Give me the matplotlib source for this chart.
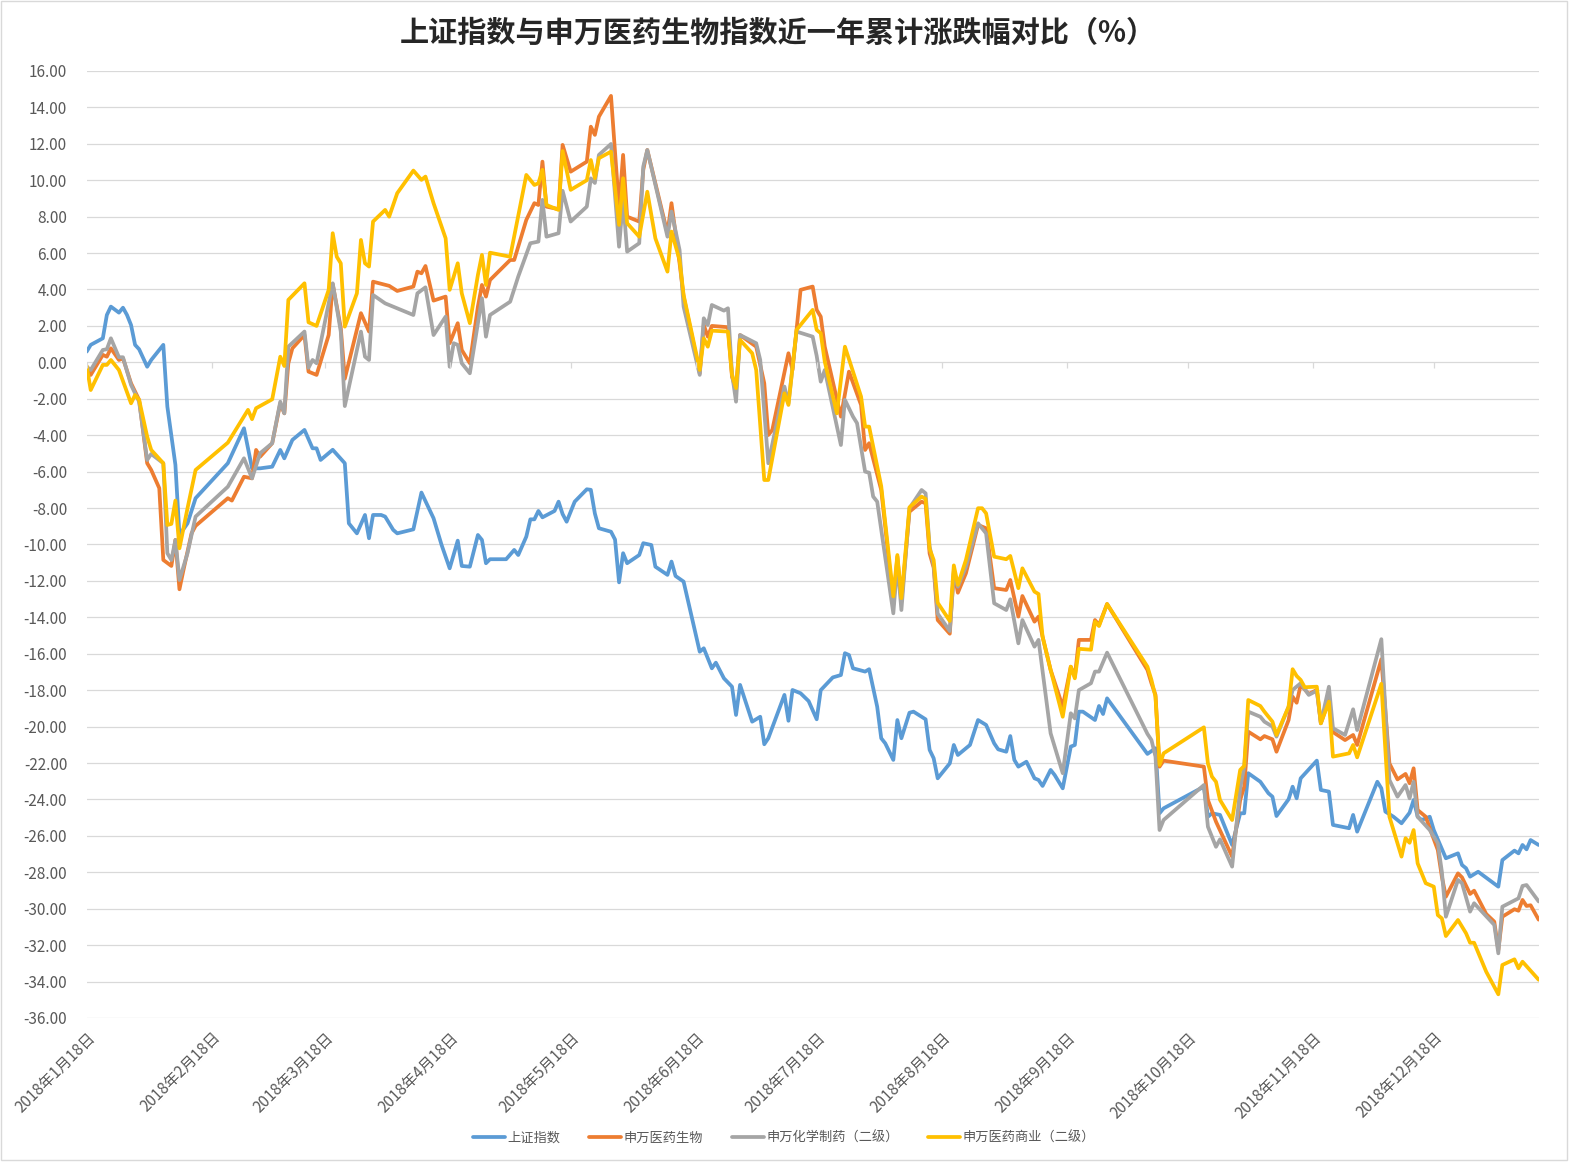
import numpy as np
import matplotlib
matplotlib.use("Agg")
import matplotlib.pyplot as plt
import matplotlib.dates as mdates
from matplotlib.patches import Rectangle

# 数据：横轴为 2018-01-18 之后的天数，纵轴为累计涨跌幅(%)
base = np.datetime64('2018-01-18')
n_days = 360

# 上证指数
sh_day = [0, 1, 4, 5, 6, 8, 9, 10, 11, 12, 13, 15, 16, 19, 20, 22, 23, 25, 27, 35,
          39, 41, 43, 46, 48, 49, 51, 54, 56, 57, 58, 61, 64, 65, 67, 69, 70, 71, 73, 74,
          76, 77, 81, 83, 86, 88, 90, 92, 93, 95, 97, 98, 99, 100, 104, 106, 107, 109, 110, 111,
          112, 113, 116, 117, 118, 119, 121, 124, 125, 126, 127, 130, 131, 132, 133, 134, 137, 138, 140, 141,
          144, 145, 146, 148, 152, 153, 155, 156, 158, 160, 161, 162, 165, 167, 168, 169, 173, 174, 175, 177,
          179, 181, 182, 185, 187, 188, 189, 190, 193, 194, 196, 197, 198, 200, 201, 202, 204, 205, 208, 209,
          210, 211, 214, 215, 216, 219, 221, 223, 225, 226, 228, 229, 230, 231, 233, 235, 236, 237, 239, 240,
          242, 244, 245, 246, 247, 250, 251, 252, 253, 263, 265, 266, 267, 277, 278, 279, 281, 284, 286, 287,
          288, 291, 293, 294, 295, 298, 299, 300, 301, 305, 306, 308, 309, 313, 314, 315, 320, 321, 322, 324,
          326, 328, 329, 330, 331, 333, 334, 337, 340, 341, 342, 343, 345, 350, 351, 354, 355, 356, 357, 358,
          360]
sh_val = [0.59, 0.96, 1.32, 2.6, 3.06, 2.73, 3.0, 2.6, 2.05, 0.96, 0.72, -0.24, 0.13, 0.96, -2.43, -5.63, -9.48, -8.84, -7.46, -5.54,
          -3.62, -5.82, -5.82, -5.73, -4.81, -5.27, -4.26, -3.71, -4.72, -4.72, -5.36, -4.8, -5.54, -8.84, -9.39, -8.38, -9.66, -8.38, -8.38, -8.47,
          -9.2, -9.39, -9.17, -7.15, -8.56, -10.03, -11.31, -9.79, -11.18, -11.22, -9.48, -9.75, -11.03, -10.81, -10.81, -10.3, -10.58, -9.57, -8.62, -8.62,
          -8.16, -8.51, -8.16, -7.65, -8.33, -8.75, -7.65, -6.97, -7.0, -8.3, -9.11, -9.3, -9.73, -12.08, -10.48, -11.03, -10.58, -9.93, -10.03, -11.22,
          -11.67, -10.94, -11.73, -12.04, -15.89, -15.7, -16.8, -16.49, -17.35, -17.81, -19.36, -17.71, -19.73, -19.46, -20.97, -20.64, -18.26, -19.68, -17.99, -18.17,
          -18.6, -19.6, -18.0, -17.3, -17.17, -15.97, -16.07, -16.8, -16.98, -16.85, -18.91, -20.64, -20.92, -21.83, -19.64, -20.64, -19.24, -19.18, -19.6, -21.28,
          -21.74, -22.84, -22.02, -21.01, -21.56, -21.01, -19.64, -19.91, -20.92, -21.25, -21.38, -20.52, -21.83, -22.2, -21.93, -22.84, -22.93, -23.26, -22.38, -22.66,
          -23.39, -21.1, -21.01, -19.18, -19.18, -19.64, -18.87, -19.31, -18.45, -21.5, -21.19, -24.76, -24.49, -23.3, -24.95, -24.76, -24.85, -26.5, -24.76, -24.76,
          -22.56, -23.03, -23.66, -23.85, -24.91, -23.99, -23.3, -23.94, -22.84, -21.87, -23.48, -23.57, -25.4, -25.58, -24.85, -25.77, -23.03, -23.39, -24.67, -24.95,
          -25.31, -24.73, -24.03, -24.95, -25.13, -24.95, -25.68, -27.23, -26.96, -27.6, -27.78, -28.24, -27.97, -28.79, -27.33, -26.81, -26.96, -26.5, -26.74, -26.23,
          -26.5]

# 申万医药生物
yy_day = [0, 1, 4, 5, 6, 8, 9, 11, 13, 15, 16, 18, 19, 21, 22, 23, 24, 26, 27, 35,
          36, 39, 41, 42, 43, 46, 48, 49, 50, 51, 54, 55, 57, 60, 61, 63, 64, 68, 70, 71,
          75, 77, 81, 82, 83, 84, 86, 89, 90, 92, 93, 95, 97, 98, 99, 100, 105, 106, 109, 111,
          112, 113, 114, 117, 118, 120, 124, 125, 126, 127, 130, 132, 133, 134, 137, 138, 139, 144, 145, 147,
          148, 152, 153, 154, 155, 159, 160, 161, 162, 166, 168, 169, 170, 174, 175, 177, 180, 181, 182, 183,
          187, 189, 192, 193, 194, 197, 198, 200, 201, 202, 204, 207, 208, 209, 210, 211, 214, 215, 216, 218,
          221, 223, 225, 228, 229, 231, 232, 235, 236, 237, 239, 242, 244, 245, 246, 249, 250, 251, 253, 263,
          264, 265, 266, 267, 277, 278, 280, 284, 286, 287, 288, 291, 292, 294, 295, 298, 299, 300, 301, 303,
          305, 306, 308, 309, 312, 314, 315, 321, 323, 325, 327, 328, 329, 330, 332, 333, 335, 336, 337, 340,
          341, 343, 344, 347, 349, 350, 351, 354, 355, 356, 357, 358, 360]
yy_val = [-0.24, -0.69, 0.41, 0.31, 0.77, 0.13, 0.22, -1.15, -2.06, -5.54, -5.91, -6.91, -10.85, -11.18, -9.75, -12.46, -11.4, -9.39, -8.98, -7.46,
          -7.59, -6.28, -6.37, -4.81, -5.18, -4.44, -2.25, -2.8, -0.05, 0.77, 1.5, -0.51, -0.69, 1.5, 4.3, 1.9, -0.9, 2.7, 1.69, 4.43,
          4.2, 3.92, 4.16, 4.98, 4.89, 5.29, 3.39, 3.61, 1.05, 2.15, 0.68, -0.05, 3.06, 4.25, 3.61, 4.52, 5.62, 5.62, 7.82, 8.74,
          8.64, 11.02, 8.55, 8.41, 11.94, 10.47, 11.02, 12.94, 12.49, 13.49, 14.63, 8.46, 11.39, 8.0, 7.73, 10.57, 11.66, 7.09, 8.74, 5.44,
          3.61, -0.6, 2.05, 1.41, 2.0, 1.93, -0.79, -1.52, 1.5, 0.86, -1.15, -3.99, -3.71, 0.5, -0.42, 3.98, 4.16, 2.88, 2.51, 0.86,
          -2.98, -0.51, -2.34, -4.81, -4.44, -7.01, -9.02, -13.3, -10.67, -13.15, -8.2, -7.65, -7.74, -10.5, -11.27, -14.15, -14.9, -11.45, -12.65, -11.58,
          -8.93, -9.11, -12.4, -12.5, -11.95, -13.96, -12.83, -14.24, -13.96, -15.06, -16.89, -18.91, -16.71, -17.26, -15.24, -15.24, -14.15, -14.42, -13.27, -16.89,
          -17.62, -18.26, -22.2, -21.87, -22.2, -24.03, -25.22, -27.14, -24.03, -23.3, -20.28, -20.7, -20.52, -20.7, -21.38, -19.64, -18.36, -18.69, -17.71, -18.21,
          -17.99, -19.82, -18.54, -20.3, -20.74, -20.46, -21.01, -16.3, -22.02, -22.9, -22.6, -23.11, -22.29, -24.58, -24.95, -25.58, -26.78, -28.24, -29.34, -28.06,
          -28.28, -29.19, -29.01, -30.29, -30.71, -32.27, -30.44, -30.03, -30.11, -29.52, -29.85, -29.81, -30.6]

# 申万化学制药（二级）
hx_day = [0, 1, 4, 5, 6, 8, 9, 11, 13, 15, 16, 19, 20, 21, 22, 23, 25, 27, 35, 39,
          41, 43, 46, 48, 49, 50, 54, 55, 56, 57, 61, 63, 64, 68, 69, 70, 71, 74, 81, 82,
          84, 86, 89, 90, 91, 92, 93, 95, 98, 99, 100, 105, 107, 110, 112, 113, 114, 117, 118, 120,
          124, 125, 126, 127, 130, 132, 133, 134, 137, 138, 139, 144, 145, 147, 148, 152, 153, 154, 155, 158,
          159, 160, 161, 162, 166, 167, 169, 173, 174, 176, 180, 181, 182, 183, 187, 188, 190, 191, 193, 194,
          195, 196, 200, 201, 202, 204, 207, 208, 209, 210, 211, 214, 215, 216, 218, 221, 223, 225, 228, 229,
          231, 232, 235, 236, 239, 242, 244, 245, 246, 249, 250, 251, 253, 263, 264, 265, 266, 267, 277, 278,
          280, 281, 284, 286, 287, 288, 291, 292, 294, 295, 298, 299, 301, 303, 305, 306, 308, 309, 312, 314,
          315, 321, 323, 325, 327, 328, 329, 330, 333, 335, 336, 337, 340, 341, 343, 344, 349, 350, 351, 355,
          356, 357, 360]
hx_val = [-0.24, -0.42, 0.68, 0.72, 1.32, 0.28, 0.28, -1.24, -2.16, -5.36, -5.03, -5.54, -10.48, -10.85, -9.75, -11.95, -10.48, -8.47, -6.83, -5.27,
          -6.37, -4.99, -4.44, -2.16, -2.8, 0.86, 1.69, -0.3, 0.13, -0.05, 4.34, 1.69, -2.4, 1.69, 0.31, 0.13, 3.7, 3.24, 2.6, 3.79,
          4.12, 1.5, 2.51, -0.24, 1.05, 0.96, -0.05, -0.6, 3.52, 1.41, 2.6, 3.33, 4.71, 6.54, 6.63, 8.92, 6.9, 7.09, 9.42, 7.73,
          8.55, 10.1, 9.85, 11.39, 11.99, 6.35, 8.92, 6.08, 6.54, 10.75, 11.66, 6.9, 8.28, 6.17, 3.06, -0.69, 2.42, 2.05, 3.15, 2.84,
          2.97, -0.6, -2.16, 1.5, 1.05, 0.13, -5.54, -1.33, -2.25, 1.69, 1.41, 0.35, -1.06, -0.42, -4.54, -2.06, -2.98, -3.34, -6.0, -6.06,
          -7.37, -7.65, -13.78, -11.0, -13.6, -8.01, -7.01, -7.19, -10.12, -11.13, -13.8, -14.75, -11.58, -12.32, -11.22, -8.84, -9.39, -13.23, -13.6, -13.01,
          -15.43, -14.15, -15.61, -15.24, -20.37, -22.56, -19.27, -19.55, -18.0, -17.62, -16.98, -16.98, -15.94, -20.4, -20.74, -21.65, -25.68, -25.13, -23.21, -25.5,
          -26.6, -26.19, -27.69, -23.39, -22.2, -19.18, -19.46, -19.73, -20.0, -20.55, -18.91, -17.99, -17.62, -18.26, -18.03, -19.82, -17.81, -20.09, -20.46, -19.05,
          -20.19, -15.2, -22.93, -23.85, -23.21, -23.94, -23.03, -24.95, -25.68, -26.41, -27.97, -30.44, -28.42, -28.6, -30.16, -29.7, -30.89, -32.45, -29.89, -29.43,
          -28.75, -28.7, -29.6]

# 申万医药商业（二级）
sy_day = [0, 1, 4, 5, 6, 8, 11, 12, 13, 15, 16, 19, 20, 21, 22, 23, 25, 27, 35, 40,
          41, 42, 46, 48, 49, 50, 54, 55, 57, 60, 61, 62, 63, 64, 67, 68, 69, 70, 71, 74,
          75, 77, 81, 83, 84, 86, 89, 90, 92, 93, 95, 97, 98, 99, 100, 105, 109, 111, 112, 113,
          114, 117, 118, 120, 124, 125, 126, 127, 130, 132, 133, 134, 137, 139, 141, 144, 145, 147, 148, 152,
          153, 154, 155, 159, 160, 161, 162, 165, 166, 168, 169, 173, 174, 176, 180, 181, 182, 183, 186, 188,
          192, 193, 194, 197, 200, 201, 202, 204, 207, 208, 209, 210, 211, 214, 215, 216, 218, 221, 222, 223,
          225, 228, 229, 231, 232, 235, 236, 237, 239, 242, 244, 245, 246, 249, 250, 251, 253, 263, 264, 265,
          266, 267, 277, 278, 279, 280, 281, 284, 286, 287, 288, 291, 292, 294, 295, 298, 299, 300, 301, 302,
          305, 306, 308, 309, 313, 314, 315, 321, 323, 326, 327, 328, 329, 330, 332, 334, 335, 336, 337, 340,
          342, 343, 344, 347, 350, 351, 354, 355, 356, 360]
sy_val = [-0.2, -1.52, -0.14, -0.14, 0.13, -0.42, -2.25, -1.79, -2.06, -4.08, -4.81, -5.54, -8.93, -8.87, -7.59, -10.21, -8.01, -5.91, -4.41, -2.61,
          -3.12, -2.52, -2.03, 0.31, -0.2, 3.43, 4.34, 2.2, 2.0, 3.98, 7.09, 5.8, 5.44, 1.96, 3.79, 6.72, 5.44, 5.26, 7.73, 8.37,
          8.0, 9.29, 10.53, 10.02, 10.2, 8.74, 6.81, 3.98, 5.44, 3.79, 2.15, 4.8, 5.9, 4.25, 6.02, 5.8, 10.29, 9.74, 9.83, 10.57,
          8.64, 8.37, 11.6, 9.47, 10.0, 11.11, 10.11, 11.21, 11.57, 7.55, 10.11, 7.64, 6.9, 9.37, 6.81, 4.98, 7.18, 5.62, 3.7, -0.42,
          1.32, 0.86, 1.74, 1.69, -0.69, -1.42, 1.23, 0.5, -0.42, -6.46, -6.46, -1.7, -2.34, 1.78, 2.88, 1.78, 1.6, 0.04, -2.8, 0.86,
          -1.88, -3.53, -3.53, -6.8, -12.85, -10.58, -12.95, -7.96, -7.37, -7.5, -10.25, -10.85, -13.2, -14.2, -11.15, -12.22, -10.85, -8.01, -8.01, -8.29,
          -10.67, -10.81, -10.63, -12.4, -11.31, -12.59, -12.72, -15.06, -16.89, -19.46, -16.71, -17.35, -15.73, -15.78, -14.24, -14.48, -13.27, -16.71, -17.44, -18.36,
          -22.11, -21.47, -20.04, -22.02, -22.75, -23.03, -24.03, -25.13, -22.38, -22.16, -18.54, -18.87, -19.18, -19.73, -20.46, -18.91, -16.85, -17.22, -17.44, -17.84,
          -17.81, -19.82, -18.63, -21.65, -21.47, -21.01, -21.69, -17.65, -24.95, -27.14, -26.13, -26.38, -25.68, -27.51, -28.6, -28.79, -30.35, -30.53, -31.5, -30.62,
          -31.35, -31.87, -31.87, -33.46, -34.7, -33.09, -32.78, -33.27, -32.91, -33.9]

names = ['上证指数', '申万医药生物', '申万化学制药（二级）', '申万医药商业（二级）']
colors = ['#5B9BD5', '#ED7D31', '#A5A5A5', '#FFC000']
series = [(sh_day, sh_val), (yy_day, yy_val), (hx_day, hx_val), (sy_day, sy_val)]

title = '上证指数与申万医药生物指数近一年累计涨跌幅对比（%）'

tick_font = ['Liberation Sans Narrow', 'Noto Sans CJK SC', 'DejaVu Sans']
cjk_font = ['Noto Sans CJK SC', 'DejaVu Sans']
txt_color = '#595959'
grid_color = '#D9D9D9'


def to_dates(days):
    return base + np.array(days, dtype='timedelta64[D]')


fig = plt.figure(figsize=(15.76, 11.67), dpi=100)
ax = fig.add_axes([0.0550, 0.1277, 0.9213, 0.8115])

handles = []
for (d, v), c, nm in zip(series, colors, names):
    ln, = ax.plot(to_dates(d), v, color=c, lw=2.7, solid_joinstyle='round',
                  solid_capstyle='round', label=nm)
    handles.append(ln)

ax.set_xlim(base, base + np.timedelta64(n_days, 'D'))
ax.set_ylim(-36, 16)
ax.set_yticks(np.arange(-36, 17, 2))
ax.yaxis.set_major_formatter(plt.FuncFormatter(lambda v, p: '%.2f' % v))
ax.yaxis.grid(True, color=grid_color, lw=0.9)
ax.set_axisbelow(True)
for s in ax.spines.values():
    s.set_visible(False)

ax.xaxis.set_major_locator(mdates.MonthLocator(bymonthday=18))
ax.xaxis.set_major_formatter(plt.FuncFormatter(
    lambda x, p: '{0}年{1}月{2}日'.format(mdates.num2date(x).year,
                                        mdates.num2date(x).month,
                                        mdates.num2date(x).day)))
ax.tick_params(axis='both', length=0, colors=txt_color)
ax.tick_params(axis='y', pad=14)
ax.tick_params(axis='x', pad=8)
for lab in ax.get_yticklabels():
    lab.set_family(tick_font)
    lab.set_fontsize(11)
for lab in ax.get_xticklabels():
    lab.set_family(tick_font)
    lab.set_fontsize(11)
    lab.set_rotation(45)
    lab.set_ha('right')
    lab.set_va('top')
    lab.set_rotation_mode('anchor')

# 零轴上的小刻度
tick_locs = ax.get_xticks()
ax.vlines(tick_locs, -0.3, 0, color=grid_color, lw=0.9)

fig.text(0.4935, 0.9717, title, ha='center', va='center', fontsize=21,
         family=cjk_font, weight='bold', color='#262626')

fig.legend(handles, names, loc='center', bbox_to_anchor=(0.4975, 0.0245),
           ncol=4, frameon=False, handlelength=2.4, handletextpad=0.2,
           columnspacing=2.2, prop={'family': cjk_font, 'size': 9.5},
           labelcolor=txt_color)

fig.patches.append(Rectangle((0.0006, 0.006), 0.9937, 0.993, transform=fig.transFigure,
                             fill=False, ec=grid_color, lw=1))

fig.savefig('out.png', dpi=100)
